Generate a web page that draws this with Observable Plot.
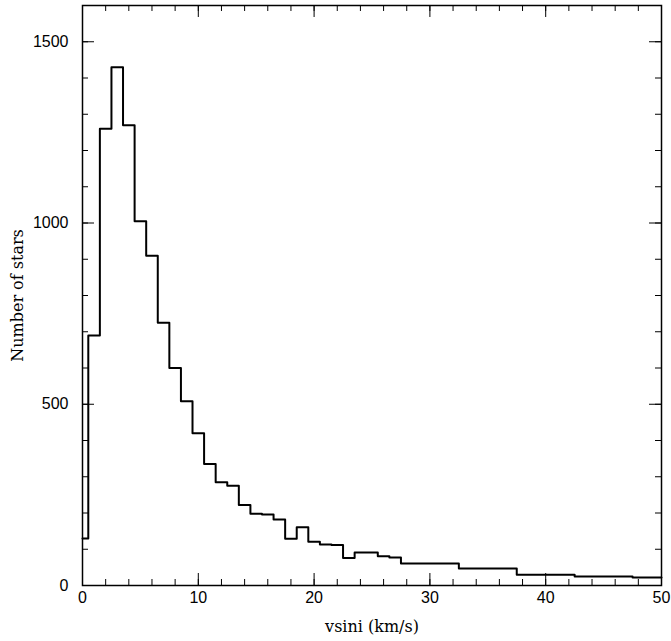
<!DOCTYPE html>
<html><head><meta charset="utf-8">
<script src="https://cdn.jsdelivr.net/npm/d3@7"></script>
<script src="https://cdn.jsdelivr.net/npm/@observablehq/plot@0.6"></script>
<style>body{margin:0;background:#fff}
g[aria-label="x-axis tick label"], g[aria-label="y-axis tick label"]{font-family:'Liberation Sans',sans-serif;font-size:16px}
g[aria-label="x-axis label"], g[aria-label="y-axis label"]{font-family:'DejaVu Serif',serif;font-size:16px}
</style>
</head><body><div id="chart"></div>
<script>
const binEdges = [0, 0.5, 1.5, 2.5, 3.5, 4.5, 5.5, 6.5, 7.5, 8.5, 9.5, 10.5, 11.5, 12.5, 13.5, 14.5, 15.5, 16.5, 17.5, 18.5, 19.5, 20.5, 21.5, 22.5, 23.5, 24.5, 25.5, 26.5, 27.5, 32.5, 37.5, 42.5, 47.5, 50];
const counts = [130, 690, 1260, 1430, 1270, 1005, 910, 725, 600, 508, 420, 335, 285, 275, 222, 198, 196, 182, 129, 161, 121, 113, 112, 76, 91, 91, 81, 77, 61, 47, 30, 25, 22];
const xMajor = [0, 10, 20, 30, 40, 50];
const xMinor = d3.range(0, 51, 2);
const yMajor = [0, 500, 1000, 1500];
const yMinor = d3.range(0, 1601, 100);

const steps = binEdges.map((x, i) => ({x, y: counts[Math.min(i, counts.length - 1)]}));

const xLen = 12 / 11.58, yLen = 12 / 0.3627; // major tick length in data units

const chart = Plot.plot({
  width: 671,
  height: 641,
  marginLeft: 82,
  marginRight: 10,
  marginTop: 5,
  marginBottom: 56,
  style: {fontSize: "16px", color: "#000"},
  x: {domain: [0, 50], ticks: xMajor, tickSize: 0, tickPadding: 6, tickFormat: d => String(d), label: "vsini (km/s)", labelArrow: "none", labelAnchor: "center", labelOffset: 46},
  y: {domain: [0, 1600], ticks: yMajor, tickSize: 0, tickPadding: 14, tickFormat: d => String(d), label: "Number of stars", labelArrow: "none", labelAnchor: "center", labelOffset: 71},
  marks: [
    Plot.frame({strokeWidth: 1.5}),
    Plot.ruleX(xMinor, {x: d => d, y1: 0, y2: yLen / 2}),
    Plot.ruleX(xMajor, {x: d => d, y1: 0, y2: yLen}),
    Plot.ruleX(xMinor, {x: d => d, y1: 1600, y2: 1600 - yLen / 2}),
    Plot.ruleX(xMajor, {x: d => d, y1: 1600, y2: 1600 - yLen}),
    Plot.ruleY(yMinor, {y: d => d, x1: 0, x2: xLen / 2}),
    Plot.ruleY(yMajor, {y: d => d, x1: 0, x2: xLen}),
    Plot.ruleY(yMinor, {y: d => d, x1: 50, x2: 50 - xLen / 2}),
    Plot.ruleY(yMajor, {y: d => d, x1: 50, x2: 50 - xLen}),
    Plot.line(steps, {x: "x", y: "y", curve: "step-after", stroke: "#000", strokeWidth: 2})
  ]
});
document.getElementById("chart").appendChild(chart);
</script></body></html>
